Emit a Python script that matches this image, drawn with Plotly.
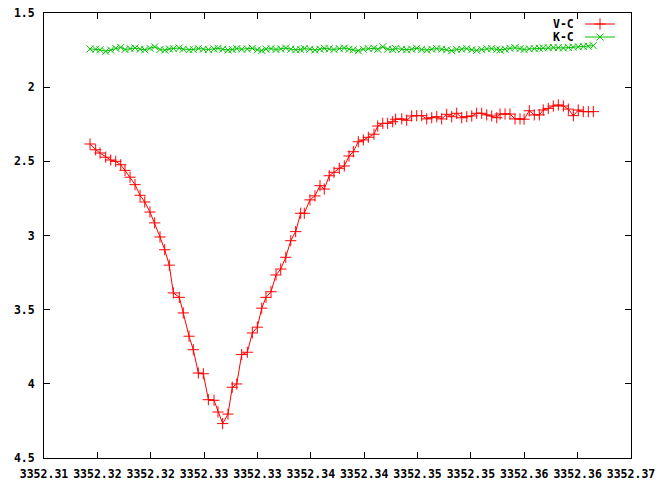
import plotly.graph_objects as go

# Observation times (shared by both series)
times = [
    3352.31431, 3352.31484, 3352.31525, 3352.31578, 3352.31625, 3352.31672, 3352.31719, 3352.31759, 3352.31806, 3352.31853,
    3352.31900, 3352.31944, 3352.31993, 3352.32037, 3352.32087, 3352.32131, 3352.32174, 3352.32212, 3352.32268, 3352.32305,
    3352.32359, 3352.32399, 3352.32446, 3352.32493, 3352.32540, 3352.32593, 3352.32630, 3352.32674, 3352.32724, 3352.32764,
    3352.32806, 3352.32852, 3352.32905, 3352.32952, 3352.32999, 3352.33040, 3352.33080, 3352.33127, 3352.33174, 3352.33218,
    3352.33265, 3352.33312, 3352.33358, 3352.33405, 3352.33439, 3352.33492, 3352.33539, 3352.33586, 3352.33626, 3352.33673,
    3352.33717, 3352.33767, 3352.33814, 3352.33858, 3352.33898, 3352.33945, 3352.33992, 3352.34039, 3352.34092, 3352.34127,
    3352.34174, 3352.34220, 3352.34267, 3352.34295, 3352.34352, 3352.34398, 3352.34445, 3352.34492, 3352.34539, 3352.34586,
    3352.34633, 3352.34680, 3352.34726, 3352.34773, 3352.34820, 3352.34867, 3352.34914, 3352.34961, 3352.35008, 3352.35054,
    3352.35101, 3352.35148, 3352.35195, 3352.35242, 3352.35273, 3352.35320, 3352.35366, 3352.35413, 3352.35460, 3352.35498,
    3352.35547, 3352.35594, 3352.35641, 3352.35678, 3352.35725, 3352.35772, 3352.35819, 3352.35866, 3352.35913, 3352.35960,
    3352.36006, 3352.36053, 3352.36100, 3352.36147,
]

v_minus_c = [
    2.383, 2.422, 2.444, 2.472, 2.491, 2.500, 2.523, 2.561, 2.607, 2.657,
    2.729, 2.774, 2.842, 2.915, 3.010, 3.096, 3.200, 3.387, 3.417, 3.522,
    3.679, 3.770, 3.927, 3.932, 4.107, 4.111, 4.190, 4.268, 4.204, 4.023,
    4.001, 3.803, 3.787, 3.657, 3.618, 3.490, 3.417, 3.379, 3.266, 3.226,
    3.147, 3.035, 2.974, 2.850, 2.850, 2.760, 2.733, 2.664, 2.687, 2.597,
    2.574, 2.547, 2.531, 2.464, 2.435, 2.368, 2.356, 2.338, 2.317, 2.262,
    2.244, 2.244, 2.233, 2.216, 2.214, 2.223, 2.194, 2.192, 2.192, 2.214,
    2.206, 2.199, 2.214, 2.183, 2.199, 2.176, 2.206, 2.199, 2.194, 2.176,
    2.176, 2.187, 2.194, 2.206, 2.181, 2.181, 2.181, 2.214, 2.214, 2.216,
    2.159, 2.187, 2.187, 2.154, 2.143, 2.127, 2.120, 2.127, 2.148, 2.192,
    2.154, 2.165, 2.165, 2.165,
]

k_minus_c = [
    1.742, 1.744, 1.748, 1.758, 1.750, 1.738, 1.732, 1.746, 1.740, 1.736,
    1.744, 1.748, 1.738, 1.728, 1.746, 1.750, 1.742, 1.740, 1.736, 1.744,
    1.748, 1.746, 1.740, 1.744, 1.746, 1.742, 1.738, 1.744, 1.750, 1.746,
    1.740, 1.744, 1.743, 1.738, 1.748, 1.752, 1.744, 1.740, 1.746, 1.742,
    1.736, 1.744, 1.748, 1.746, 1.740, 1.744, 1.750, 1.744, 1.738, 1.742,
    1.746, 1.740, 1.736, 1.744, 1.748, 1.754, 1.744, 1.740, 1.738, 1.744,
    1.728, 1.744, 1.746, 1.740, 1.744, 1.748, 1.744, 1.738, 1.746, 1.750,
    1.744, 1.740, 1.744, 1.748, 1.754, 1.746, 1.744, 1.740, 1.748, 1.752,
    1.746, 1.742, 1.740, 1.746, 1.750, 1.744, 1.738, 1.734, 1.740, 1.746,
    1.742, 1.740, 1.738, 1.736, 1.734, 1.732, 1.734, 1.736, 1.732, 1.730,
    1.728, 1.726, 1.724, 1.720,
]

x_tick_values = [3352.310, 3352.315, 3352.320, 3352.325, 3352.330, 3352.335,
                 3352.340, 3352.345, 3352.350, 3352.355, 3352.360, 3352.365]
x_tick_labels = ["3352.31", "3352.32", "3352.32", "3352.33", "3352.33", "3352.34",
                 "3352.34", "3352.35", "3352.35", "3352.36", "3352.36", "3352.37"]
y_tick_values = [1.5, 2, 2.5, 3, 3.5, 4, 4.5]
y_tick_labels = ["1.5", "2", "2.5", "3", "3.5", "4", "4.5"]
series_names = ["V-C", "K-C"]

RED = "#ff0000"
GREEN = "#00c400"
FONT = dict(family="DejaVu Sans Mono", size=11.5, color="black", weight="bold")

fig = go.Figure()
fig.add_trace(go.Scatter(
    x=times, y=v_minus_c, name=series_names[0], mode="lines+markers",
    line=dict(color=RED, width=1),
    marker=dict(symbol="cross-thin", size=8, color=RED, line=dict(color=RED, width=1)),
    legend="legend",
))
fig.add_trace(go.Scatter(
    x=times, y=k_minus_c, name=series_names[1], mode="lines+markers",
    line=dict(color=GREEN, width=1),
    marker=dict(symbol="x-thin", size=7, color=GREEN, line=dict(color=GREEN, width=1)),
    legend="legend2",
))

W, H = 662, 480
# plot-area edges in pixels
SL, SR, ST, SB = 44, 631, 13, 458
ML, MR, MT, MB = SL, W - SR, ST, H - SB
pw, ph = W - ML - MR, H - MT - MB

def px_to_paper_x(px):
    return (px - SL) / pw

def px_to_paper_y(py):
    return 1 - (py - ST) / ph

legend_common = dict(
    xanchor="left", yanchor="middle", bgcolor="rgba(0,0,0,0)",
    borderwidth=0, font=dict(family="DejaVu Sans Mono", size=10, color="rgba(0,0,0,0)"),
    itemwidth=30,
)
rows_py = [24, 37]

fig.update_layout(
    width=W, height=H,
    margin=dict(l=ML, r=MR, t=MT, b=MB, autoexpand=False),
    paper_bgcolor="white", plot_bgcolor="white",
    showlegend=True,
    legend=dict(x=px_to_paper_x(580), y=px_to_paper_y(rows_py[0]), **legend_common),
    legend2=dict(x=px_to_paper_x(580), y=px_to_paper_y(rows_py[1]), **legend_common),
    xaxis=dict(
        range=[3352.3099999, 3352.3650001], tickmode="array",
        tickvals=x_tick_values, ticktext=x_tick_labels,
        ticks="inside", ticklen=6, tickcolor="black", tickwidth=1,
        showline=True, linecolor="black", linewidth=1, mirror="ticks",
        showgrid=False, zeroline=False, tickfont=FONT, ticklabelstandoff=5,
        ticklabeloverflow="allow",
    ),
    yaxis=dict(
        range=[4.5, 1.5], tickmode="array",
        tickvals=y_tick_values, ticktext=y_tick_labels,
        ticks="inside", ticklen=6, tickcolor="black", tickwidth=1,
        showline=True, linecolor="black", linewidth=1, mirror="ticks",
        showgrid=False, zeroline=False, tickfont=FONT, ticklabelstandoff=6,
        ticklabeloverflow="allow",
    ),
)

for name, py in zip(series_names, rows_py):
    fig.add_annotation(
        text=name, xref="paper", yref="paper",
        x=px_to_paper_x(576), y=px_to_paper_y(py),
        xanchor="right", yanchor="middle", showarrow=False, font=FONT,
    )

# remove the browser's default 8px body margin so the figure fills the window
fig.write_html(
    "out.html",
    config={"displayModeBar": False},
    post_script="document.body.style.margin='0';",
)
